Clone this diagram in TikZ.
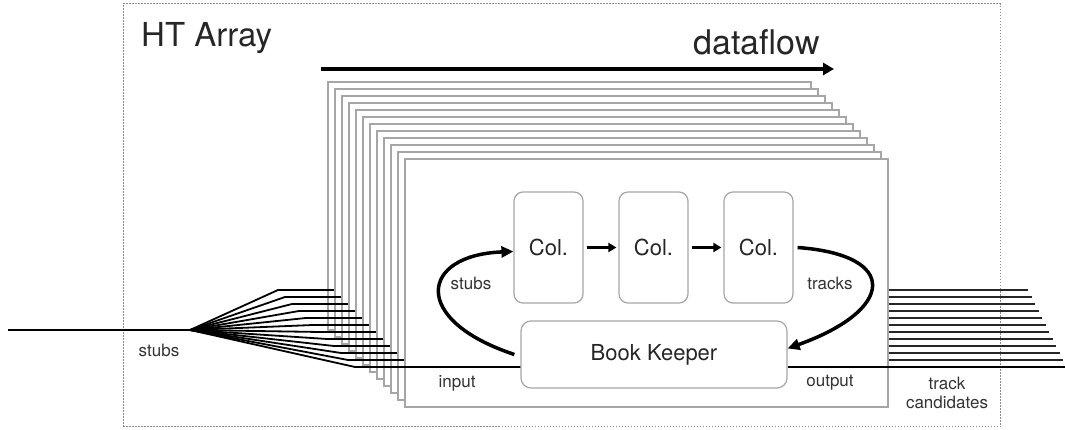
\documentclass[tikz,border=0pt]{standalone}
\usepackage{fontspec}
\setmainfont{TeX Gyre Heros}
\usetikzlibrary{arrows.meta,calc}

\begin{document}
\begin{tikzpicture}[x=1pt, y=1pt,
    card/.style={draw=black!35, fill=white, line width=1.4pt, minimum width=483pt, minimum height=248pt, inner sep=0pt},
    block/.style={draw=black!35, rounded corners=9pt, line width=1.2pt, font=\fontsize{22}{24}\selectfont, text=black!85},
    wire/.style={line width=1.8pt},
    flow/.style={line width=3.5pt, -{Triangle[length=12pt,width=11pt]}},
    lbl/.style={font=\fontsize{17}{19}\selectfont, text=black!80, inner sep=0pt}]
    \useasboundingbox (0,0) rectangle (1065,430);

    % outer frame
    \draw[black!45, line width=1pt, dash pattern=on 1.5pt off 1.5pt] (123,3) rectangle (1000,426);
    \node[anchor=base west, font=\fontsize{33}{36}\selectfont, text=black!85, inner sep=0pt] (title) at (141,383) {HT Array};

    % dataflow arrow
    \node[anchor=base east, font=\fontsize{34}{36}\selectfont, text=black!85, inner sep=0pt] (df) at (820,375) {dataflow};
    \coordinate (dfs) at (321,361);
    \coordinate (dfe) at (834,361);
    \draw[line width=4pt, -{Triangle[length=11pt,width=12pt]}] (dfs) -- (dfe);

    % stubs come in
    \coordinate (src) at (8,100);
    \coordinate (apex) at (190,100);
    \draw[wire] (src) -- (apex);
    \node[lbl] (lstubs) at (159,80) {stubs};

    % stack of HT cards
    \foreach \i in {0,...,11} {
        \node[card] (card\i) at (569.5+7*\i, 224-7*\i) {};
        \coordinate (in\i) at (278+7*\i, 140-7*\i);
        \coordinate (out\i) at (1028+3.5*\i, 140-7*\i);
        \ifnum\i<11
            \draw[wire] (apex) -- (in\i) -- ([xshift=12]card\i.west |- in\i);
            \draw[wire, black!85, line width=1.6pt] ([xshift=-12]card\i.east |- out\i) -- (out\i);
        \fi
    }

    % front card
    \node[block] (col1) at (548.5,182.5) [minimum width=69pt, minimum height=111pt] {Col.};
    \node[block] (col2) at (653.5,182.5) [minimum width=69pt, minimum height=111pt] {Col.};
    \node[block] (col3) at (758.5,182.5) [minimum width=69pt, minimum height=111pt] {Col.};
    \node[block, rounded corners=10pt] (bk) at (654,75.5) [minimum width=266pt, minimum height=67pt] {Book Keeper};

    \draw[line width=3pt, -{Triangle[length=8pt,width=9pt]}, shorten <=3pt, shorten >=2pt] (col1) -- (col2);
    \draw[line width=3pt, -{Triangle[length=8pt,width=9pt]}, shorten <=3pt, shorten >=2pt] (col2) -- (col3);

    \draw[wire] (apex) -- (in11) -- (bk.west |- in11);
    \draw[wire] (bk.east |- in11) -- (out11);

    \draw[flow] ([xshift=-6]bk.west) .. controls (410,110) and (420,175) .. ([yshift=-4]col1.west);
    \draw[flow] ([xshift=4]col3.east) .. controls (900,175) and (895,120) .. ([yshift=6]bk.east);

    \node[lbl] (stubs) at (471,147) {stubs};
    \node[lbl] (tracks) at (830,147) {tracks};
    \node[lbl] (input) at (457,47) {input};
    \node[lbl] (output) at (830,47) {output};
    \node[lbl, align=center] (cand) at (947,37) {track\\candidates};
\end{tikzpicture}
\end{document}
